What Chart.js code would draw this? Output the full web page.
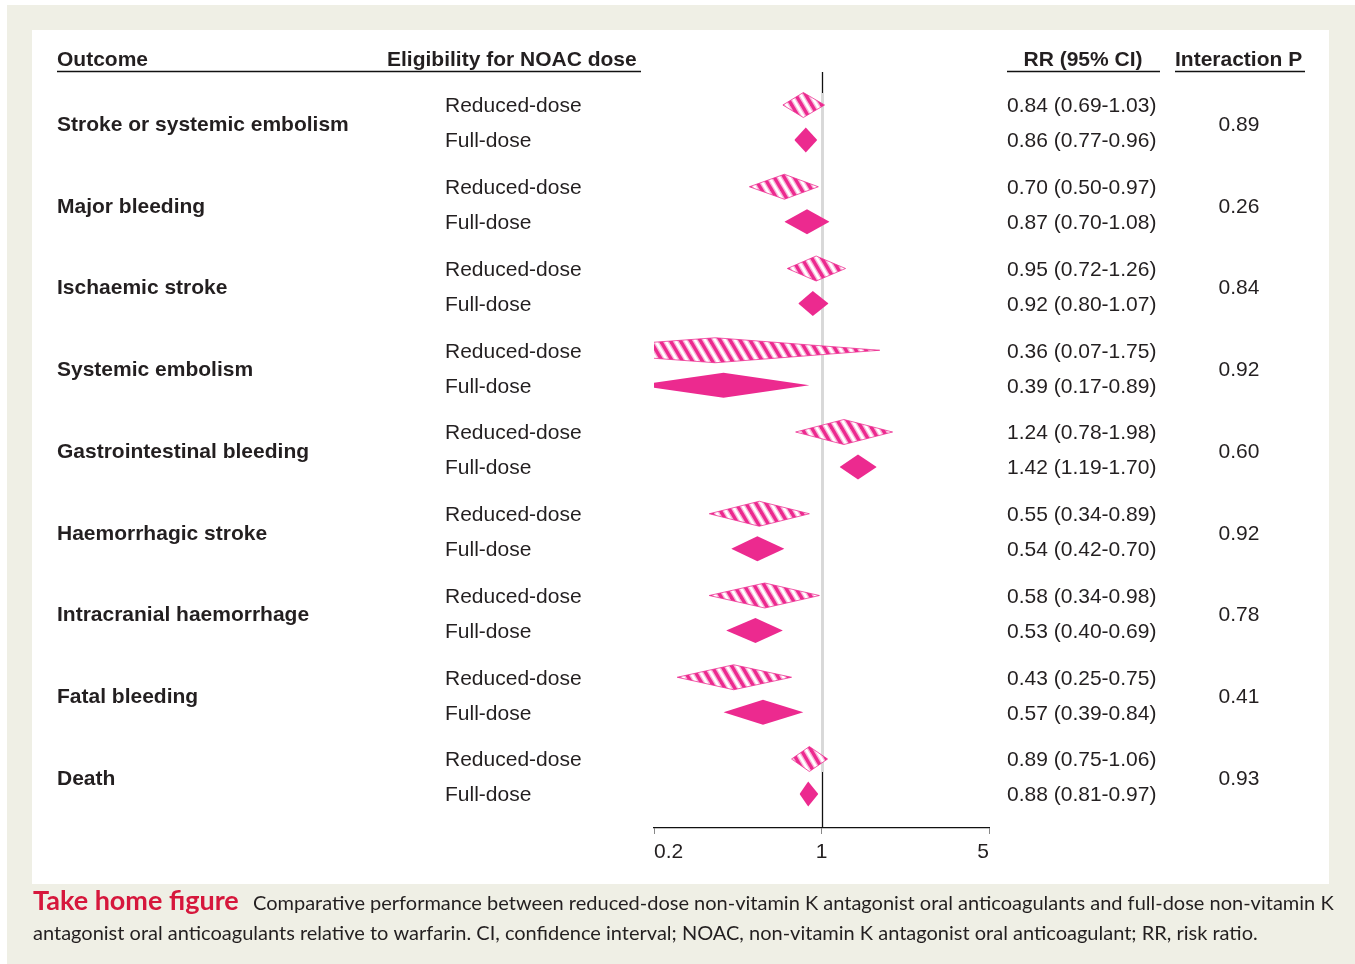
<!DOCTYPE html>
<html>
<head>
<meta charset="utf-8">
<script src="https://cdn.jsdelivr.net/npm/chart.js@4.4.1/dist/chart.umd.min.js"></script>
<style>
  html, body { margin: 0; padding: 0; background: #fff; }
  #wrap { position: relative; width: 1355px; height: 964px; }
</style>
</head>
<body>
<div id="wrap"><canvas id="forest" width="1355" height="964"></canvas></div>
<script>
// values
var outcomes = ['Stroke or systemic embolism', 'Major bleeding', 'Ischaemic stroke', 'Systemic embolism',
  'Gastrointestinal bleeding', 'Haemorrhagic stroke', 'Intracranial haemorrhage', 'Fatal bleeding', 'Death'];
var doseLabels = ['Reduced-dose', 'Full-dose'];

var rrReduced = [0.84, 0.70, 0.95, 0.36, 1.24, 0.55, 0.58, 0.43, 0.89];
var loReduced = [0.69, 0.50, 0.72, 0.07, 0.78, 0.34, 0.34, 0.25, 0.75];
var hiReduced = [1.03, 0.97, 1.26, 1.75, 1.98, 0.89, 0.98, 0.75, 1.06];

var rrFull = [0.86, 0.87, 0.92, 0.39, 1.42, 0.54, 0.53, 0.57, 0.88];
var loFull = [0.77, 0.70, 0.80, 0.17, 1.19, 0.42, 0.40, 0.39, 0.81];
var hiFull = [0.96, 1.08, 1.07, 0.89, 1.70, 0.70, 0.69, 0.84, 0.97];

var pInteraction = [0.89, 0.26, 0.84, 0.92, 0.60, 0.92, 0.78, 0.41, 0.93];
var xTicks = [0.2, 1, 5];

var pink = '#EC2A8F';
var ink = '#231f20';
var font = '"Liberation Sans", Arial, Helvetica, sans-serif';

// row layout in y-scale units (the y scale runs 0..756 top to bottom)
var firstRow = 33, inGroup = 35, groupStep = 81.75, halfH = 12.5;
function yReduced(i) { return firstRow + groupStep * i; }
function yFull(i) { return yReduced(i) + inGroup; }

function makeHatch() {
  var c = document.createElement('canvas');
  c.width = 10; c.height = 17;
  var g = c.getContext('2d');
  g.fillStyle = '#fff';
  g.fillRect(0, 0, 10, 17);
  [-10, 0, 10].forEach(function(dx) {
    g.strokeStyle = 'rgba(236,42,143,0.35)';
    g.lineWidth = 6;
    g.beginPath(); g.moveTo(dx - 10, -17); g.lineTo(dx + 20, 34); g.stroke();
    g.strokeStyle = pink;
    g.lineWidth = 3.4;
    g.beginPath(); g.moveTo(dx - 10, -17); g.lineTo(dx + 20, 34); g.stroke();
  });
  return g.createPattern(c, 'repeat');
}
var hatch = makeHatch();

var datasets = [];
function addDiamond(lo, rr, hi, yc, hatched) {
  var base = {
    pointRadius: 0,
    tension: 0,
    borderWidth: hatched ? 1 : 0,
    borderColor: hatched ? 'rgba(236,42,143,0.75)' : 'rgba(0,0,0,0)',
    clip: 0
  };
  datasets.push(Object.assign({}, base, {
    data: [{x: lo, y: yc}, {x: rr, y: yc - halfH}, {x: hi, y: yc}],
    fill: false
  }));
  datasets.push(Object.assign({}, base, {
    data: [{x: lo, y: yc}, {x: rr, y: yc + halfH}, {x: hi, y: yc}],
    fill: '-1',
    backgroundColor: hatched ? hatch : pink
  }));
}
outcomes.forEach(function(o, i) {
  addDiamond(loReduced[i], rrReduced[i], hiReduced[i], yReduced(i), true);
  addDiamond(loFull[i], rrFull[i], hiFull[i], yFull(i), false);
});

function rrText(rr, lo, hi) {
  return rr.toFixed(2) + ' (' + lo.toFixed(2) + '-' + hi.toFixed(2) + ')';
}

var framePlugin = {
  id: 'frame',
  beforeDraw: function(chart) {
    var ctx = chart.ctx;
    ctx.save();
    ctx.fillStyle = '#fff';
    ctx.fillRect(0, 0, 1355, 964);
    ctx.fillStyle = '#efefe5';
    ctx.fillRect(7, 5, 1348, 959);
    ctx.fillStyle = '#fff';
    ctx.fillRect(32, 30, 1297, 854);
    ctx.restore();
  }
};

var refLinePlugin = {
  id: 'refLine',
  beforeDatasetsDraw: function(chart) {
    var ctx = chart.ctx, x = chart.scales.x, y = chart.scales.y, a = chart.chartArea;
    var px = Math.round(x.getPixelForValue(1)) + 0.5;
    ctx.save();
    ctx.strokeStyle = '#111';
    ctx.lineWidth = 1.3;
    ctx.beginPath(); ctx.moveTo(px, a.top); ctx.lineTo(px, a.bottom); ctx.stroke();
    ctx.strokeStyle = '#d8d8d8';
    ctx.lineWidth = 2;
    ctx.beginPath(); ctx.moveTo(px, y.getPixelForValue(21)); ctx.lineTo(px, y.getPixelForValue(700)); ctx.stroke();
    ctx.restore();
  }
};

var textPlugin = {
  id: 'forestText',
  afterDraw: function(chart) {
    var ctx = chart.ctx, y = chart.scales.y;
    var dy = 1.5; // nudge text to sit level with the marks
    ctx.save();
    ctx.fillStyle = ink;
    ctx.textBaseline = 'middle';

    // headers
    ctx.font = 'bold 21px ' + font;
    ctx.textAlign = 'left';
    ctx.fillText('Outcome', 57, 60);
    ctx.fillText('Eligibility for NOAC dose', 387, 60);
    ctx.fillText('Interaction P', 1175, 60);
    ctx.textAlign = 'center';
    ctx.fillText('RR (95% CI)', 1083, 60);
    ctx.strokeStyle = '#111';
    ctx.lineWidth = 1.3;
    ctx.beginPath();
    ctx.moveTo(57, 71.5); ctx.lineTo(641, 71.5);
    ctx.moveTo(1007, 71.5); ctx.lineTo(1160, 71.5);
    ctx.moveTo(1175, 71.5); ctx.lineTo(1305, 71.5);
    ctx.stroke();

    outcomes.forEach(function(o, i) {
      var yr = y.getPixelForValue(yReduced(i)) + dy;
      var yf = y.getPixelForValue(yFull(i)) + dy;
      var ym = (yr + yf) / 2 + 1;
      ctx.textAlign = 'left';
      ctx.font = 'bold 21px ' + font;
      ctx.fillText(o, 57, ym);
      ctx.font = '21px ' + font;
      ctx.fillText(doseLabels[0], 445, yr);
      ctx.fillText(doseLabels[1], 445, yf);
      ctx.fillText(rrText(rrReduced[i], loReduced[i], hiReduced[i]), 1007, yr);
      ctx.fillText(rrText(rrFull[i], loFull[i], hiFull[i]), 1007, yf);
      ctx.textAlign = 'center';
      ctx.fillText(pInteraction[i].toFixed(2), 1239, ym);
    });

    // caption
    var capFont = 'Lato, "Open Sans", sans-serif';
    var head = 'Take home figure';
    var line1 = 'Comparative performance between reduced-dose non-vitamin K antagonist oral anticoagulants and full-dose non-vitamin K';
    var line2 = 'antagonist oral anticoagulants relative to warfarin. CI, confidence interval; NOAC, non-vitamin K antagonist oral anticoagulant; RR, risk ratio.';
    ctx.textAlign = 'left';
    ctx.textBaseline = 'alphabetic';
    ctx.font = 'bold 27px ' + capFont;
    ctx.fillStyle = '#d6173c';
    ctx.fillText(head, 33, 910);
    ctx.font = '20px ' + capFont;
    ctx.fillStyle = ink;
    ctx.fillText(line1, 253, 910);
    ctx.fillText(line2, 33, 940);
    ctx.restore();
  }
};

new Chart(document.getElementById('forest'), {
  type: 'line',
  data: { datasets: datasets },
  options: {
    responsive: false,
    devicePixelRatio: 1,
    animation: false,
    events: [],
    layout: { padding: { left: 654, right: 366, top: 72, bottom: 96 } },
    plugins: {
      legend: { display: false },
      tooltip: { enabled: false }
    },
    scales: {
      x: {
        type: 'logarithmic',
        min: 0.2,
        max: 5,
        afterBuildTicks: function(scale) {
          scale.ticks = xTicks.map(function(v) { return { value: v }; });
        },
        afterFit: function(scale) { scale.height = 40; },
        ticks: {
          autoSkip: false,
          maxRotation: 0,
          align: 'inner',
          padding: 6,
          color: ink,
          font: { family: font, size: 21 },
          callback: function(v) { return String(v); }
        },
        grid: { drawOnChartArea: false, drawTicks: true, tickLength: 6, color: '#888' },
        border: { color: '#111', width: 1.3 }
      },
      y: {
        type: 'linear',
        min: 0,
        max: 756,
        reverse: true,
        display: false
      }
    }
  },
  plugins: [framePlugin, refLinePlugin, textPlugin]
});
</script>
</body>
</html>
